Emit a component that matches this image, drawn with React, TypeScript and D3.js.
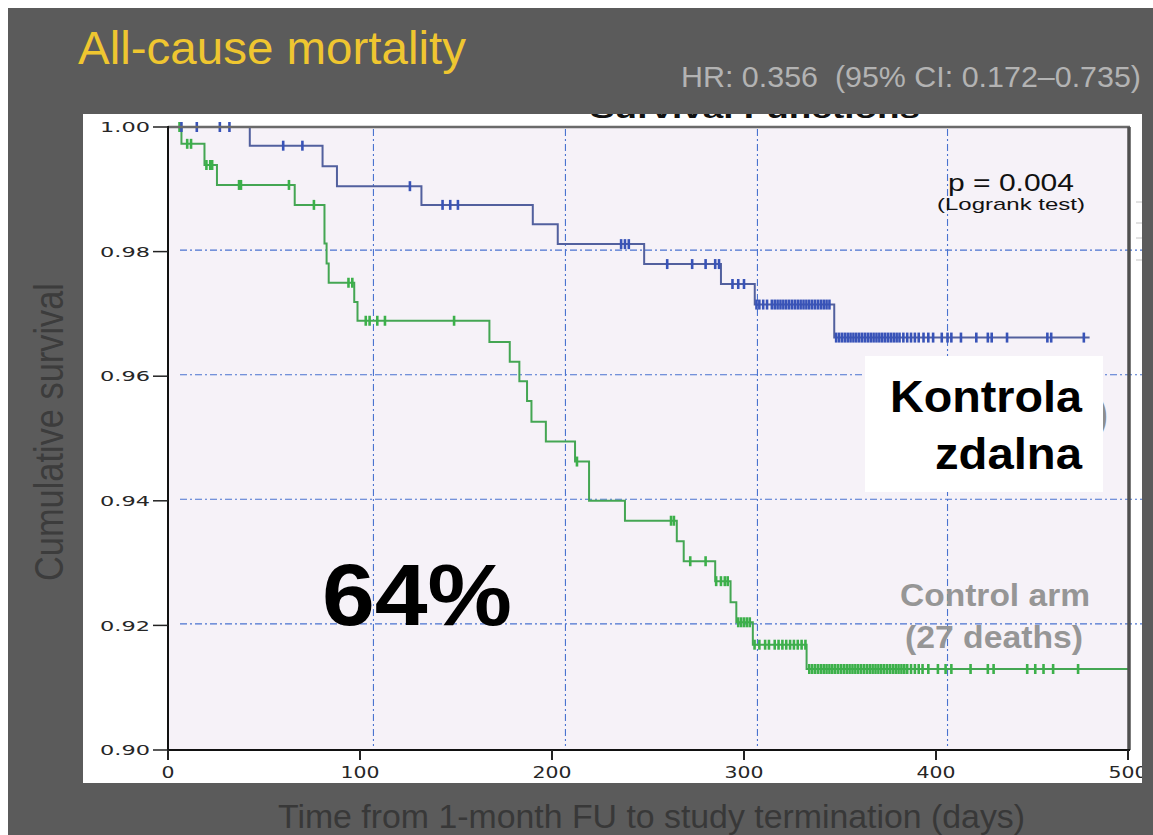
import React from 'react';
import * as d3 from 'd3';

// ---- Data (Kaplan–Meier step curves) ----
// Remote monitoring arm ("Kontrola zdalna") – blue
const blueTimes = [0, 42.6, 80.5, 88, 132, 190, 203, 248, 288, 305.6, 347];
const blueSurv = [1.0, 0.997, 0.9937, 0.9905, 0.9875, 0.9844, 0.9812, 0.978, 0.9748, 0.9715, 0.9662];
const blueEnd = 480;
const blueCensor = [
  7, 15, 27, 32, 60, 70, 126, 143, 147, 151, 236, 238, 240, 260, 273, 280, 285, 287, 294, 297, 300,
  306.5, 308, 310, 312, 314.5, 316, 317.5, 319, 320.5, 322, 323.5, 325, 326.5, 328, 329.5, 331, 332.5,
  334, 335.5, 337, 338.5, 340, 341.5, 343, 344.5,
  348, 349.5, 351, 352.5, 354, 355.5, 357, 358.5, 360, 361.5, 363, 364.5, 366, 367.5, 369, 370.5, 372,
  373.5, 375, 376.5, 378, 379.5, 381, 383, 385, 387, 389, 391, 393.5, 396, 398.5,
  403, 406, 408, 413, 421, 427, 429, 437, 458, 460, 477,
];

// Control arm – green
const greenTimes = [0, 7, 19, 25.5, 66, 81.5, 82.6, 83.7, 97, 98.7, 167.4, 178, 183, 187, 189.3, 196.8, 212, 219.3, 238, 265, 268.6, 285, 293, 296, 304.6, 332.6];
const greenSurv = [1.0, 0.9973, 0.9939, 0.9907, 0.9875, 0.9813, 0.9781, 0.975, 0.9719, 0.9689, 0.9655, 0.9623, 0.9592, 0.956, 0.9527, 0.9495, 0.9463, 0.94, 0.9368, 0.9335, 0.9303, 0.9271, 0.9237, 0.9205, 0.9169, 0.913];
const greenEnd = 500;
const greenCensor = [
  6, 10, 12, 20, 22, 23, 37, 38, 63, 76, 94, 96, 103, 105, 109, 113, 149, 213, 262, 263.5, 272, 280,
  285.5, 288, 290, 291.5, 297, 298.5, 300, 301.5, 303,
  305.5, 308, 311, 313, 316, 318, 320, 322, 324, 326, 328, 330, 332,
  334, 335.5, 337, 338.5, 340, 341.5, 343, 344.5, 346, 347.5, 349, 350.5, 352, 353.5, 355, 356.5, 358,
  359.5, 361, 362.5, 364, 365.5, 367, 368.5, 370, 371.5, 373, 374.5, 376, 377.5, 379, 380.5, 382, 383.5,
  385, 387, 389, 391, 393,
  396, 401, 405, 408, 418, 427, 430, 447.5, 451.7, 456, 461, 474,
];

const xTicks = [0, 100, 200, 300, 400, 500];
const yTicks = [0.9, 0.92, 0.94, 0.96, 0.98, 1.0];
const gridX = [107, 207, 307, 406];
const gridY = [0.92, 0.94, 0.96, 0.98];

const SANS = "'Liberation Sans', Arial, Helvetica, sans-serif";
const AXISFONT = "'DejaVu Sans', Verdana, sans-serif";

function survAt(times: number[], surv: number[], t: number) {
  let s = surv[0];
  for (let i = 0; i < times.length; i++) if (times[i] <= t) s = surv[i];
  return s;
}

export default function App() {
  const x = d3.scaleLinear().domain([0, 500]).range([168, 1128]);
  const y = d3.scaleLinear().domain([0.9, 1.0]).range([750, 127]);
  const line = d3
    .line<[number, number]>()
    .x((d) => x(d[0]))
    .y((d) => y(d[1]))
    .curve(d3.curveStepAfter);

  const bluePts: [number, number][] = blueTimes.map((t, i) => [t, blueSurv[i]] as [number, number]);
  bluePts.push([blueEnd, blueSurv[blueSurv.length - 1]]);
  const greenPts: [number, number][] = greenTimes.map((t, i) => [t, greenSurv[i]] as [number, number]);
  greenPts.push([greenEnd, greenSurv[greenSurv.length - 1]]);

  const fmt = d3.format('.2f');

  return (
    <svg
      width={1153}
      height={835}
      style={{ position: 'absolute', left: 0, top: 0, display: 'block' }}
    >
      <defs>
        <clipPath id="panelClip">
          <rect x={83} y={114} width={1059} height={669} />
        </clipPath>
      </defs>
      {/* slide background */}
      <rect x={0} y={0} width={1153} height={835} fill="#ffffff" />
      <rect x={8} y={8} width={1145} height={827} fill="#5b5b5b" />

      {/* titles */}
      <text x={78} y={64} fontFamily={SANS} fontSize={46} fill="#efc630" textLength={388} lengthAdjust="spacingAndGlyphs">
        All-cause mortality
      </text>
      <text x={1141} y={87} textAnchor="end" fontFamily={SANS} fontSize={29} fill="#b3b3b3" textLength={460} lengthAdjust="spacingAndGlyphs">
        {'HR: 0.356\u00a0\u00a0(95% CI: 0.172–0.735)'}
      </text>

      {/* chart panel */}
      <rect x={83} y={114} width={1059} height={669} fill="#ffffff" />
      <g clipPath="url(#panelClip)">
        <text x={755} y={117.5} textAnchor="middle" fontFamily={SANS} fontWeight="bold" fontSize={26} fill="#111" textLength={330} lengthAdjust="spacingAndGlyphs">
          Survival Functions
        </text>
        <rect x={x(0)} y={y(1.0)} width={x(500) - x(0)} height={y(0.9) - y(1.0)} fill="#f6f2f8" />

        {/* gridlines */}
        {gridY.map((v) => (
          <line key={'gy' + v} x1={180} x2={1142} y1={y(v) - 1.5} y2={y(v) - 1.5} stroke="#4a73d0" strokeWidth={1.1} strokeDasharray="7,3,2,3" />
        ))}
        {gridX.map((v) => (
          <line key={'gx' + v} x1={x(v)} x2={x(v)} y1={y(1.0) + 2} y2={y(0.9) - 4} stroke="#4a73d0" strokeWidth={1.1} strokeDasharray="7,3,2,3" />
        ))}

        {/* legend remnants at right edge */}
        {[202, 223, 238, 260].map((v) => (
          <line key={'lr' + v} x1={1136} x2={1142} y1={v} y2={v} stroke="#c4c4c4" strokeWidth={1} />
        ))}

        {/* curves */}
        <path d={line(greenPts) || ''} fill="none" stroke="#44a653" strokeWidth={2} />
        {greenCensor.map((t, i) => {
          const s = survAt(greenTimes, greenSurv, t);
          return <line key={'gc' + i} x1={x(t)} x2={x(t)} y1={y(s) - 5} y2={y(s) + 5} stroke="#3cb04a" strokeWidth={2.6} />;
        })}
        <path d={line(bluePts) || ''} fill="none" stroke="#52609e" strokeWidth={2} />
        {blueCensor.map((t, i) => {
          const s = survAt(blueTimes, blueSurv, t);
          return <line key={'bc' + i} x1={x(t)} x2={x(t)} y1={y(s) - 5} y2={y(s) + 5} stroke="#3853b8" strokeWidth={2.6} />;
        })}

        {/* frame */}
        <line x1={x(0)} x2={x(500) + 2} y1={y(1.0)} y2={y(1.0)} stroke="#6a6a6a" strokeWidth={2.5} />
        <line x1={x(500) + 1} x2={x(500) + 1} y1={y(1.0)} y2={y(0.9)} stroke="#505050" strokeWidth={3.5} />
        <line x1={x(0)} x2={x(500) + 2} y1={y(0.9)} y2={y(0.9)} stroke="#111" strokeWidth={2} />
        <line x1={x(0)} x2={x(0)} y1={y(1.0) - 1} y2={y(0.9) + 1} stroke="#111" strokeWidth={2} />

        {/* axes ticks and labels */}
        {yTicks.map((v) => (
          <g key={'yt' + v}>
            <line x1={x(0) - 15} x2={x(0)} y1={y(v)} y2={y(v)} stroke="#222" strokeWidth={1.5} />
            <text x={150} y={y(v)} dy="0.36em" textAnchor="end" fontFamily={AXISFONT} fontSize={14.5} fill="#262626" textLength={50} lengthAdjust="spacingAndGlyphs">
              {fmt(v)}
            </text>
          </g>
        ))}
        {xTicks.map((v) => {
          const lab = String(v);
          return (
            <g key={'xt' + v}>
              <line x1={x(v)} x2={x(v)} y1={y(0.9)} y2={y(0.9) + 10} stroke="#222" strokeWidth={2} />
              <text x={x(v)} y={778} textAnchor="middle" fontFamily={AXISFONT} fontSize={15} fill="#262626" textLength={lab.length * 13} lengthAdjust="spacingAndGlyphs">
                {lab}
              </text>
            </g>
          );
        })}

        {/* annotations inside the plot */}
        <text x={1011} y={191} textAnchor="middle" fontFamily={SANS} fontSize={24} fill="#111" textLength={126} lengthAdjust="spacingAndGlyphs">
          p = 0.004
        </text>
        <text x={1011} y={210} textAnchor="middle" fontFamily={SANS} fontSize={17} fill="#111" textLength={148} lengthAdjust="spacingAndGlyphs">
          (Logrank test)
        </text>

        <text x={1108} y={428} textAnchor="end" fontFamily={SANS} fontWeight="bold" fontSize={40} fill="#8e8e8e">
          )
        </text>
        <rect x={865} y={356} width={238} height={136} fill="#ffffff" />
        <text x={1082} y={412} textAnchor="end" fontFamily={SANS} fontWeight="bold" fontSize={44} fill="#000" textLength={192} lengthAdjust="spacingAndGlyphs">
          Kontrola
        </text>
        <text x={1082} y={469} textAnchor="end" fontFamily={SANS} fontWeight="bold" fontSize={44} fill="#000" textLength={147} lengthAdjust="spacingAndGlyphs">
          zdalna
        </text>

        <text x={995} y={606} textAnchor="middle" fontFamily={SANS} fontWeight="bold" fontSize={31} fill="#969696" textLength={190} lengthAdjust="spacingAndGlyphs">
          Control arm
        </text>
        <text x={994} y={648} textAnchor="middle" fontFamily={SANS} fontWeight="bold" fontSize={31} fill="#969696" textLength={178} lengthAdjust="spacingAndGlyphs">
          (27 deaths)
        </text>

        <text x={322} y={625} fontFamily={SANS} fontWeight="bold" fontSize={88} fill="#000" textLength={190} lengthAdjust="spacingAndGlyphs">
          64%
        </text>
      </g>

      {/* axis titles on the slide */}
      <text
        transform="translate(63,432) rotate(-90)"
        textAnchor="middle"
        fontFamily={SANS}
        fontSize={40}
        fill="#3c3c3c"
        textLength={298}
        lengthAdjust="spacingAndGlyphs"
      >
        Cumulative survival
      </text>
      <text x={278} y={828} fontFamily={SANS} fontSize={33} fill="#383838" textLength={747} lengthAdjust="spacingAndGlyphs">
        Time from 1-month FU to study termination (days)
      </text>
    </svg>
  );
}
